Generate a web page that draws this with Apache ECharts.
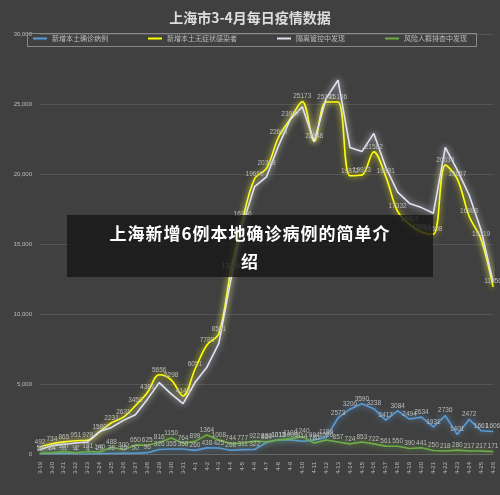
<!DOCTYPE html>
<html><head><meta charset="utf-8">
<script src="https://cdn.jsdelivr.net/npm/echarts@6/dist/echarts.min.js"></script>
<style>html,body{margin:0;padding:0;background:#404040;}#c{width:500px;height:495px;}
#ov{position:absolute;left:67px;top:215px;width:366px;height:62px;background:rgba(20,20,20,0.78);color:#fff;font:bold 17px "Noto Sans CJK SC",sans-serif;text-align:center;line-height:28px;padding-top:4px;box-sizing:border-box;letter-spacing:1px}
#lb{position:absolute;left:27px;top:33px;width:450px;height:14px;border:1px solid #888;box-sizing:border-box}</style>
</head><body><div id="c"></div><div id="lb"></div><div id="ov">上海新增6例本地确诊病例的简单介<br>绍</div>
<script>
const dates=["3-19","3-20","3-21","3-22","3-23","3-24","3-25","3-26","3-27","3-28","3-29","3-30","3-31","4-1","4-2","4-3","4-4","4-5","4-6","4-7","4-8","4-9","4-10","4-11","4-12","4-13","4-14","4-15","4-16","4-17","4-18","4-19","4-20","4-21","4-22","4-23","4-24","4-25","4-26"];
const confirmed=[17,24,31,4,4,29,38,45,50,96,326,355,358,260,438,425,268,311,322,824,1015,1006,914,994,1189,2573,3200,3590,3238,2417,3084,2494,2634,1931,2736,1401,2472,1661,1606];
const asymptomatic=[492,734,865,951,979,1580,2231,2631,3450,4381,5656,5298,4144,6051,7788,8581,13086,16766,19660,20398,22609,23937,25173,22348,25141,25146,19872,19923,21582,19831,17332,16407,15861,15698,20634,19657,16983,15319,11956];
const quarantine=[300,600,700,790,860,1600,1900,2400,2800,3900,5100,4300,3600,5100,6200,7900,12400,16400,19100,19800,22000,23900,24800,22300,25400,26700,21900,21600,22900,20500,18700,17900,17600,17200,21900,20300,18500,16000,12300];
const screening=[50,84,167,92,181,140,488,300,650,625,816,1150,764,899,1364,1008,744,777,922,880,1012,1100,1240,780,1000,857,724,853,722,561,550,390,441,250,218,280,217,217,171];
const ch=echarts.init(document.getElementById('c'));
const lbl={show:true,fontSize:6.5,color:'#bbb',position:'top',distance:1};
function s(name,data,color,smooth,label){return {name,type:'line',data,smooth,symbol:'circle',symbolSize:1,showSymbol:true,
 lineStyle:{color,width:1.6,shadowColor:color,shadowBlur:6},itemStyle:{color},label:label?lbl:{show:false},labelLayout:{hideOverlap:false}};}
ch.setOption({
 backgroundColor:'#404040',animation:false,
 title:{text:'上海市3-4月每日疫情数据',left:'center',top:6,textStyle:{color:'#ddd',fontSize:14,fontWeight:'bold',fontFamily:'Noto Sans CJK SC'}},
 legend:{top:35,left:'center',itemGap:40,padding:0,itemWidth:14,itemHeight:2,icon:'rect',
  textStyle:{color:'#bbb',fontSize:7,fontFamily:'Noto Sans CJK SC'}},
 grid:{left:40,right:7,top:34,bottom:41},
 xAxis:{type:'category',data:dates,boundaryGap:false,axisLine:{lineStyle:{color:'#666'}},axisTick:{show:false},
  axisLabel:{color:'#bbb',fontSize:6,rotate:90,interval:0}},
 yAxis:{type:'value',min:0,max:30000,interval:5000,axisLine:{show:false},axisTick:{show:false},
  splitLine:{lineStyle:{color:'#555'}},axisLabel:{color:'#bbb',fontSize:6}},
 series:[s('新增本土确诊病例',confirmed,'#5b9bd5',false,true),s('新增本土无症状感染者',asymptomatic,'#ffff00',0.35,true),
  s('隔离管控中发现',quarantine,'#e0e2f2',false,false),s('风险人群排查中发现',screening,'#70ad47',false,true)]
});
</script></body></html>
